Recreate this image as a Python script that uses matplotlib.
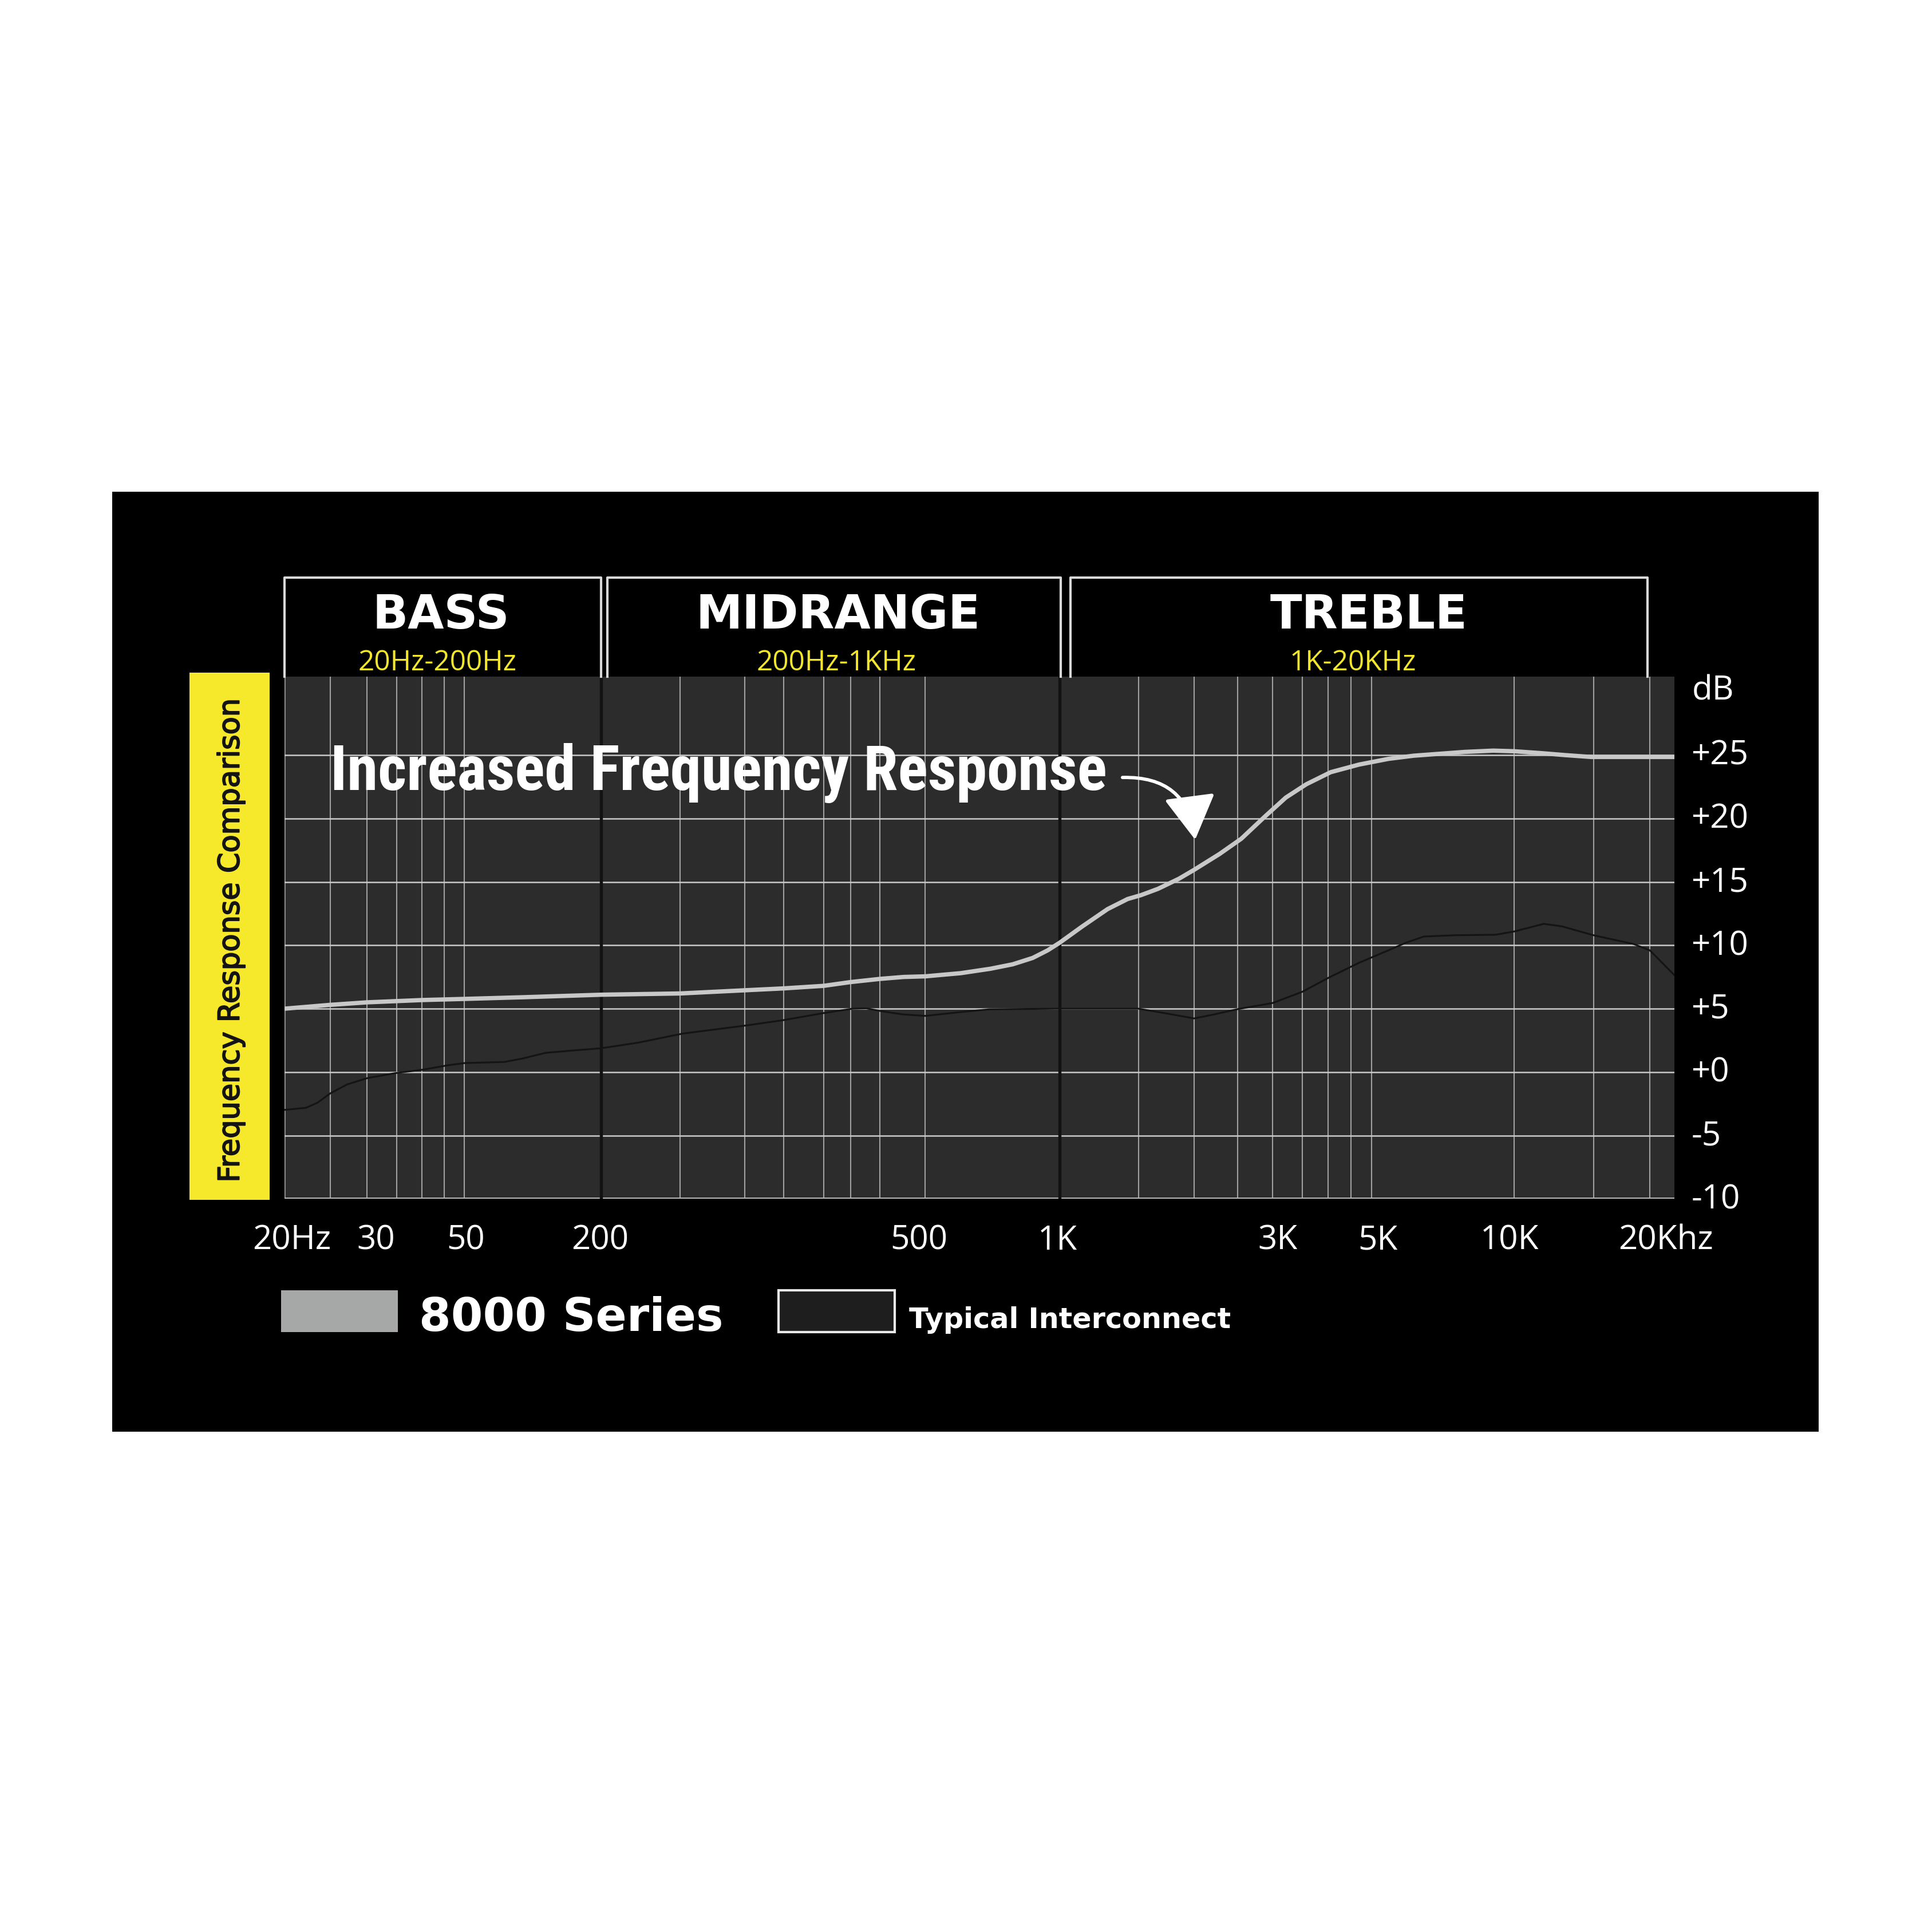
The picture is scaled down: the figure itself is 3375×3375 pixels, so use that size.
import numpy as np
import matplotlib
matplotlib.use("Agg")
import matplotlib.pyplot as plt
from matplotlib import font_manager as fm
from matplotlib.patches import Rectangle
from matplotlib.lines import Line2D
import matplotlib.transforms as mtransforms
import matplotlib.patheffects as pe

# ---------------- data ----------------
freq_8000 = [20, 25, 30, 40, 50, 90, 200, 250, 300, 335, 375, 405, 440, 470, 500,
             600, 700, 785, 870, 940, 1000, 1120, 1280, 1420, 1520, 1660, 1850, 2000,
             2280, 2550, 2890, 3210, 3570, 4050, 4690, 5430, 6140, 7870, 9030, 10000,
             11490, 12930, 14800, 20000, 22700]
db_8000 = [5.0, 5.3, 5.5, 5.68, 5.77, 5.9, 6.1, 6.2, 6.45, 6.6, 6.8, 7.1, 7.35, 7.5, 7.55,
           7.8, 8.15, 8.5, 9.0, 9.6, 10.2, 11.45, 12.85, 13.65, 13.95, 14.45, 15.25, 15.95,
           17.2, 18.4, 20.2, 21.65, 22.7, 23.65, 24.25, 24.7, 24.95, 25.25, 25.35, 25.3,
           25.15, 25.0, 24.85, 24.85, 24.85]

freq_typ = [20, 22.2, 23.5, 25, 27.2, 30, 34.8, 40, 45.9, 50, 75, 90, 114, 162, 200, 222,
            252, 300, 335, 374, 407, 423, 440, 469, 500, 599, 696, 1000, 1500, 1750, 2000,
            2220, 2500, 3000, 3500, 4000, 4690, 5430, 5910, 6450, 7490, 9130, 10000, 11630,
            12760, 15000, 18400, 20000, 22700]
db_typ = [-2.98, -2.82, -2.42, -1.69, -0.97, -0.48, -0.08, 0.18, 0.54, 0.71, 0.8, 1.07, 1.52,
          1.75, 1.88, 2.32, 3.04, 3.66, 4.1, 4.64, 5.0, 5.03, 4.82, 4.55, 4.43, 4.73, 4.95,
          5.0, 5.0, 4.6, 4.23, 4.55, 4.96, 5.45, 6.34, 7.43, 8.62, 9.6, 10.2, 10.69, 10.79,
          10.83, 11.09, 11.69, 11.49, 10.79, 10.1, 9.6, 7.63]

tick_hz = [20, 30, 50, 200, 500, 1000, 3000, 5000, 10000, 20000]
tick_labels = ["20Hz", "30", "50", "200", "500", "1K", "3K", "5K", "10K", "20Khz"]
grid_hz = [25, 30, 35, 40, 45, 50, 250, 300, 335, 375, 405, 440, 500,
           1500, 2000, 2500, 3000, 3500, 4000, 4500, 5000, 10000, 15000, 20000]
band_edges_hz = [200, 1000]
db_ticks = [-10, -5, 0, 5, 10, 15, 20, 25]
db_labels = ["-10", "-5", "+0", "+5", "+10", "+15", "+20", "+25"]
band_names = ["BASS", "MIDRANGE", "TREBLE"]
band_ranges = ["20Hz-200Hz", "200Hz-1KHz", "1K-20KHz"]
series_names = ["8000 Series", "Typical Interconnect"]
title_text = "Increased Frequency Response"
side_label = "Frequency Response Comparison"

# ---------------- fonts ----------------
def pick(cands, default="DejaVu Sans"):
    for c in cands:
        try:
            fm.findfont(fm.FontProperties(family=c), fallback_to_default=False)
            return c
        except Exception:
            pass
    return default

plt.rcParams["font.family"] = ["Open Sans", "DejaVu Sans"]
COND = pick(["Liberation Sans Narrow", "DejaVu Sans Condensed", "Roboto Condensed",
             "Open Sans Condensed"])

# ---------------- layout helpers (reference px at 1568 scale) ----------------
S = 1568.0
K = 3375.0 / S
def P(x, y):
    return (x / S, 1 - y / S)

fig = plt.figure(figsize=(11.25, 11.25), dpi=300, facecolor="white")

# black panel
fig.add_artist(Rectangle(P(91, 1162), (1476 - 91) / S, (1162 - 399) / S,
                         transform=fig.transFigure, facecolor="black",
                         edgecolor="none", zorder=-5))

# ---------------- custom frequency scale ----------------
_ax_hz = np.array([10, 20, 30, 50, 200, 500, 1000, 3000, 5000, 10000, 20000, 40000], float)
_ax_pos = np.array([116.5, 231, 298, 377, 488, 751, 860, 1033, 1113, 1229, 1339, 1449], float)
_lg = np.log10(_ax_hz)

def fwd(f):
    f = np.asarray(f, float)
    return np.interp(np.log10(np.clip(f, 1e-6, None)), _lg, _ax_pos)

def inv(p):
    return 10 ** np.interp(np.asarray(p, float), _ax_pos, _lg)

L, R, T, B = 231, 1359, 549, 973
ax = fig.add_axes([L / S, 1 - B / S, (R - L) / S, (B - T) / S])
ax.set_facecolor("#2c2c2c")
ax.set_xscale("function", functions=(fwd, inv))
ax.set_xlim(20, float(inv(R)))
ax.set_ylim(-10, 31.2)
for sp in ax.spines.values():
    sp.set_visible(False)

# grid
for h in grid_hz:
    ax.axvline(h, color="#a0a0a0", lw=0.5, zorder=1)
for d in db_ticks[1:]:
    ax.axhline(d, color="#cacaca", lw=0.6, zorder=1.5)
ax.axvline(20, color="#9a9a9a", lw=0.6, zorder=1)
ax.axhline(-10, color="#b8b8b8", lw=1.2, zorder=2)
for h in band_edges_hz:
    ax.axvline(h, color="#121212", lw=1.3, zorder=2)

# series
ax.plot(freq_typ, db_typ, color="#141414", lw=0.75, zorder=4,
        solid_capstyle="round", solid_joinstyle="round")
ax.plot(freq_8000, db_8000, color="#c8c8c8", lw=1.8, zorder=5,
        solid_capstyle="round", solid_joinstyle="round")

# x tick labels (as text at data x)
ax.set_xticks([])
ax.xaxis.set_minor_locator(matplotlib.ticker.NullLocator())
xoff_pt = [3.1, 3.6, 0.5, -0.5, -2.6, -1.0, 2.1, 2.6, -2.1, 6.7]
bt = mtransforms.blended_transform_factory(ax.transData, fig.transFigure)
for h, lab, off in zip(tick_hz, tick_labels, xoff_pt):
    tr = bt + mtransforms.ScaledTranslation(off / 72, 0, fig.dpi_scale_trans)
    ax.text(h, 1 - 1014 / S, lab, transform=tr, ha="center", va="baseline",
            color="white", fontsize=14, clip_on=False)

# y ticks on right
ax.yaxis.tick_right()
ax.set_yticks(db_ticks, db_labels)
ax.tick_params(axis="y", length=0, pad=7, labelsize=14, labelcolor="white")
up = mtransforms.ScaledTranslation(0, 1.3 / 72, fig.dpi_scale_trans)
for tk in ax.yaxis.get_major_ticks():
    tk.label2.set_transform(tk.label2.get_transform() + up)
fig.text(*P(1373, 568), "dB", color="white", fontsize=14, ha="left", va="baseline")

# ---------------- header boxes ----------------
boxes = [(231, 488), (493, 861), (869, 1337)]
for (x0, x1) in boxes:
    xs = [x0 / S, x0 / S, x1 / S, x1 / S]
    ys = [1 - 549 / S, 1 - 469 / S, 1 - 469 / S, 1 - 549 / S]
    fig.add_artist(Line2D(xs, ys, transform=fig.transFigure, color="#d8d8d8", lw=1.0))

renderer = fig.canvas.get_renderer()
def fit(t, target_px, use_h=False):
    bb = t.get_window_extent(renderer)
    w = bb.height if use_h else bb.width
    t.set_fontsize(t.get_fontsize() * target_px * K / w)
    return t.get_fontsize()

centers = [358, 680, 1111]
sub_centers = [355, 679, 1098]
hdr = []
for name, cx in zip(band_names, centers):
    hdr.append(fig.text(*P(cx, 510), name, color="white", fontsize=20,
                        family=["DejaVu Sans"], fontweight="bold",
                        ha="center", va="baseline"))
fs = fit(hdr[1], 231)
for t in hdr:
    t.set_fontsize(fs)
subs = []
for rng, cx in zip(band_ranges, sub_centers):
    subs.append(fig.text(*P(cx, 544), rng, color="#f2e62e", fontsize=11,
                         ha="center", va="baseline"))
fs = fit(subs[0], 129)
for t in subs:
    t.set_fontsize(fs)

# ---------------- yellow side label ----------------
fig.add_artist(Rectangle(P(154, 974), (219 - 154) / S, (974 - 546) / S,
                         transform=fig.transFigure, facecolor="#f6e82a",
                         edgecolor="none", zorder=1))
sl = fig.text(*P(187.5, 763.5), side_label, rotation=90, color="#141414",
              fontsize=12, family=["DejaVu Sans"],
              ha="center", va="center", zorder=3,
              path_effects=[pe.withStroke(linewidth=0.45, foreground="#141414")])
fit(sl, 393, use_h=True)

# ---------------- title + arrow ----------------
tt = fig.text(*P(268, 641), title_text, color="white", fontsize=30,
              family=[COND, "DejaVu Sans"], fontweight="bold",
              ha="left", va="baseline", zorder=6)
fit(tt, 631)
ax.annotate("", xy=P(970, 681.5), xytext=P(911, 631),
            xycoords="figure fraction", textcoords="figure fraction",
            arrowprops=dict(arrowstyle="-|>,head_length=0.95,head_width=0.55",
                            connectionstyle="arc3,rad=-0.45", color="white",
                            lw=1.4, mutation_scale=17, shrinkA=0, shrinkB=0),
            zorder=6)

# ---------------- legend ----------------
fig.add_artist(Rectangle(P(228, 1081), (323 - 228) / S, (1081 - 1047) / S,
                         transform=fig.transFigure, facecolor="#a6a8a8",
                         edgecolor="none", zorder=1))
fig.add_artist(Rectangle(P(632, 1081), (726 - 632) / S, (1081 - 1047) / S,
                         transform=fig.transFigure, facecolor="#1e1e1e",
                         edgecolor="#e8e8e8", lw=1.0, zorder=1))
l1 = fig.text(*P(340, 1080), series_names[0], color="white", fontsize=20,
              family=["DejaVu Sans"], fontweight="bold", ha="left", va="baseline")
fit(l1, 247)
l2 = fig.text(*P(738, 1078), series_names[1], color="white", fontsize=11,
              family=["DejaVu Sans"], fontweight="bold", ha="left", va="baseline")
fit(l2, 262)

fig.savefig("out.png", dpi=300, facecolor="white")
